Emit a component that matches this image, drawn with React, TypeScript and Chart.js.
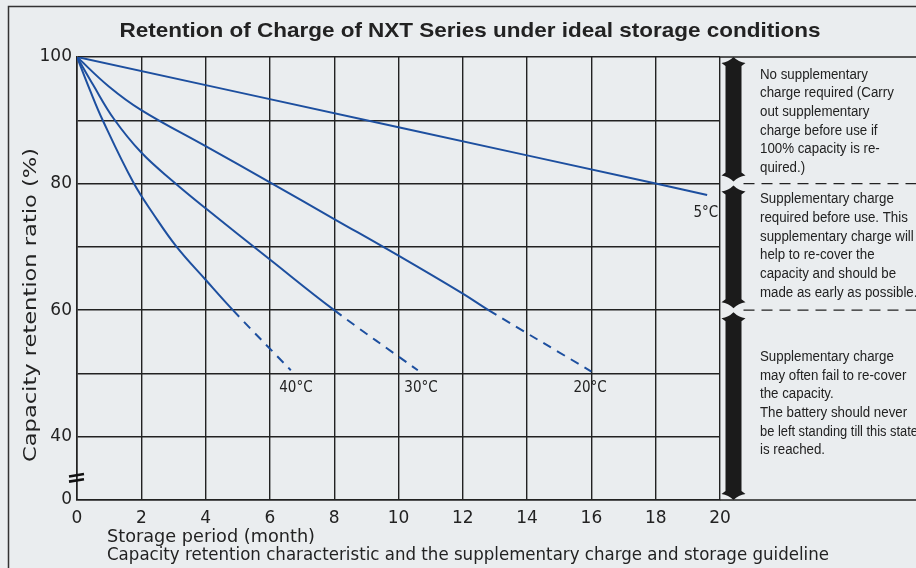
import React, { useEffect, useRef } from "react";
import { Chart, registerables } from "chart.js";

Chart.register(...registerables);

// ---- data (months, capacity retention %) ----
const months5 = [0, 10, 18, 19.6];
const ret5 = [100, 88.9, 80, 78.2];
const months20 = [0, 1, 2, 4, 6, 8, 10, 12, 12.8, 16];
const ret20 = [100, 95.3, 91.6, 85.9, 80.2, 74.4, 68.6, 62.6, 60, 50.3];
const months30 = [0, 0.5, 1.15, 2, 3, 4, 6, 8, 10.6];
const ret30 = [100, 95.6, 90.2, 84.9, 80.3, 76.1, 68, 60, 50.5];
const months40 = [0, 0.4, 0.8, 1.75, 2.4, 3.1, 4, 4.85, 6.65];
const ret40 = [100, 94.8, 90, 80.2, 75, 70, 64.8, 60, 50.5];

const tempLabels = ["5°C", "40°C", "30°C", "20°C"];
const labelMonths = [19.56, 6.81, 10.7, 15.96];
const labelRet = [75.4, 47.7, 47.7, 47.7];

const yTickValues = [100, 80, 60, 40, 30];
const yTickText = ["100", "80", "60", "40", "0"];
const xTicks = [0, 2, 4, 6, 8, 10, 12, 14, 16, 18, 20];

const zoneBounds = [100, 80, 60, 30];
const noteAnchors = [97.2, 77.5, 52.6];
const notes = [
  ["No supplementary", "charge required (Carry", "out supplementary", "charge before use if", "100% capacity is re-", "quired.)"],
  ["Supplementary charge", "required before use. This", "supplementary charge will", "help to re-cover the", "capacity and should be", "made as early as possible."],
  ["Supplementary charge", "may often fail to re-cover", "the capacity.", "The battery should never", "be left standing till this state", "is reached."],
];

const titleText = "Retention of Charge of NXT Series under ideal storage conditions";
const yTitle = "Capacity retention ratio (%)";
const xTitle1 = "Storage period (month)";
const xTitle2 = "Capacity retention characteristic and the supplementary charge and storage guideline";

const BG = "#eaedef";
const INK = "#222222";
const BLUE = "#1d4f9f";

function fitText(ctx: CanvasRenderingContext2D, text: string, x: number, y: number, font: string, width: number, align: CanvasTextAlign) {
  ctx.save();
  ctx.font = font;
  const w = ctx.measureText(text).width;
  const s = width / w;
  ctx.translate(x, y);
  ctx.scale(s, 1);
  ctx.textAlign = align;
  ctx.textBaseline = "middle";
  ctx.fillStyle = INK;
  ctx.fillText(text, 0, 0);
  ctx.restore();
}

const decor = {
  id: "decor",
  beforeDraw(chart: any) {
    const { ctx, width, height } = chart;
    ctx.save();
    ctx.fillStyle = BG;
    ctx.fillRect(0, 0, width, height);
    ctx.strokeStyle = "#333";
    ctx.lineWidth = 1.5;
    ctx.beginPath();
    ctx.moveTo(8.5, height);
    ctx.lineTo(8.5, 6.5);
    ctx.lineTo(width, 6.5);
    ctx.stroke();
    ctx.restore();
  },
  afterDraw(chart: any) {
    const { ctx, width } = chart;
    const xs = chart.scales.x;
    const ys = chart.scales.y;
    ctx.save();
    // extend top and bottom border lines
    ctx.strokeStyle = INK;
    ctx.lineWidth = 1.4;
    ctx.beginPath();
    [zoneBounds[0], zoneBounds[zoneBounds.length - 1]].forEach((v) => {
      const yy = ys.getPixelForValue(v);
      ctx.moveTo(xs.right, yy);
      ctx.lineTo(width, yy);
    });
    ctx.stroke();

    // guideline bar
    const cx = xs.right + 13.5;
    ctx.fillStyle = "#1b1b1b";
    for (let i = 0; i < zoneBounds.length - 1; i++) {
      const top = ys.getPixelForValue(zoneBounds[i]) + (i === 0 ? 0 : 2);
      const bot = ys.getPixelForValue(zoneBounds[i + 1]) - (i === zoneBounds.length - 2 ? 0 : 2);
      ctx.beginPath();
      ctx.moveTo(cx, top);
      ctx.quadraticCurveTo(cx - 5, top + 5, cx - 12, top + 6);
      ctx.lineTo(cx - 8, top + 9);
      ctx.lineTo(cx - 8, bot - 9);
      ctx.lineTo(cx - 12, bot - 6);
      ctx.quadraticCurveTo(cx - 5, bot - 5, cx, bot);
      ctx.quadraticCurveTo(cx + 5, bot - 5, cx + 12, bot - 6);
      ctx.lineTo(cx + 8, bot - 9);
      ctx.lineTo(cx + 8, top + 9);
      ctx.lineTo(cx + 12, top + 6);
      ctx.quadraticCurveTo(cx + 5, top + 5, cx, top);
      ctx.closePath();
      ctx.fill();
    }
    // dashed zone separators
    ctx.strokeStyle = INK;
    ctx.lineWidth = 1.3;
    ctx.setLineDash([11, 7]);
    ctx.beginPath();
    for (let i = 1; i < zoneBounds.length - 1; i++) {
      const yy = ys.getPixelForValue(zoneBounds[i]);
      ctx.moveTo(cx + 10, yy);
      ctx.lineTo(width, yy);
    }
    ctx.stroke();
    ctx.setLineDash([]);

    // notes
    ctx.fillStyle = INK;
    ctx.textBaseline = "middle";
    ctx.textAlign = "left";
    ctx.font = "14px 'Liberation Sans', Arial, sans-serif";
    notes.forEach((block, bi) => {
      const y0 = ys.getPixelForValue(noteAnchors[bi]);
      block.forEach((line, li) => {
        ctx.save();
        ctx.translate(xs.right + 40, y0 + li * 18.7);
        ctx.scale(0.95, 1);
        ctx.fillText(line, 0, 0, 158 / 0.95);
        ctx.restore();
      });
    });

    // temperature labels
    ctx.font = "15px 'DejaVu Sans', sans-serif";
    ctx.textAlign = "center";
    tempLabels.forEach((t, i) => {
      ctx.save();
      ctx.translate(xs.getPixelForValue(labelMonths[i]), ys.getPixelForValue(labelRet[i]));
      ctx.scale(0.9, 1);
      ctx.fillText(t, 0, 0);
      ctx.restore();
    });

    // axis break mark
    const by = ys.getPixelForValue(33.5);
    ctx.strokeStyle = "#111";
    ctx.lineWidth = 2.6;
    ctx.beginPath();
    [-2.6, 2.6].forEach((k) => {
      ctx.moveTo(xs.left - 8, by + k + 1.2);
      ctx.lineTo(xs.left + 7, by + k - 1.2);
    });
    ctx.stroke();

    // titles
    fitText(ctx, titleText, 470, 31, "bold 21px 'Liberation Sans', Arial, sans-serif", 701, "center");
    ctx.save();
    ctx.translate(32, 305);
    ctx.rotate(-Math.PI / 2);
    fitText(ctx, yTitle, 0, 0, "17px 'DejaVu Sans', sans-serif", 314, "center");
    ctx.restore();
    fitText(ctx, xTitle1, 107, 538, "17px 'DejaVu Sans', sans-serif", 208, "left");
    fitText(ctx, xTitle2, 107, 556, "17px 'DejaVu Sans', sans-serif", 722, "left");
    ctx.restore();
  },
};

function series(m: number[], r: number[]) {
  return m.map((v, i) => ({ x: v, y: r[i] }));
}

export default function App() {
  const ref = useRef<HTMLCanvasElement | null>(null);
  useEffect(() => {
    if (!ref.current) return;
    const dash = (c: any) => (c.p0.parsed.y <= 60.001 ? [9, 7] : undefined);
    const mk = (label: string, m: number[], r: number[]) => ({
      label,
      data: series(m, r),
      borderColor: BLUE,
      borderWidth: 2,
      pointRadius: 0,
      fill: false,
      tension: 0.4,
      segment: { borderDash: dash },
    });
    const chart = new Chart(ref.current, {
      type: "line",
      data: {
        datasets: [
          mk("5°C", months5, ret5),
          mk("20°C", months20, ret20),
          mk("30°C", months30, ret30),
          mk("40°C", months40, ret40),
        ],
      },
      options: {
        animation: false,
        responsive: false,
        devicePixelRatio: 1,
        layout: { padding: { top: 57, right: 196, left: 0, bottom: 0 } },
        plugins: { legend: { display: false }, tooltip: { enabled: false }, title: { display: false } },
        scales: {
          x: {
            type: "linear",
            min: 0,
            max: 20,
            afterFit: (s: any) => { s.height = 68; },
            afterBuildTicks: (s: any) => { s.ticks = xTicks.map((v) => ({ value: v })); },
            ticks: { stepSize: 2, color: INK, padding: 8, font: { family: "'DejaVu Sans', sans-serif", size: 17 }, maxRotation: 0 },
            grid: { color: INK, lineWidth: 1.4, drawTicks: false },
            border: { color: INK, width: 1.6 },
          },
          y: {
            type: "linear",
            min: 30,
            max: 100,
            afterFit: (s: any) => { s.width = 77; },
            ticks: {
              stepSize: 10,
              color: INK,
              padding: 5,
              font: { family: "'DejaVu Sans', sans-serif", size: 17 },
              callback: (v: any) => {
                const i = yTickValues.indexOf(Number(v));
                return i >= 0 ? yTickText[i] : "";
              },
            },
            grid: { color: INK, lineWidth: 1.4, drawTicks: false },
            border: { color: INK, width: 1.6 },
          },
        },
      },
      plugins: [decor],
    } as any);
    return () => chart.destroy();
  }, []);
  return (
    <div style={{ position: "fixed", left: 0, top: 0, width: 916, height: 568 }}>
      <canvas ref={ref} width={916} height={568} style={{ width: 916, height: 568, display: "block" }} />
    </div>
  );
}
